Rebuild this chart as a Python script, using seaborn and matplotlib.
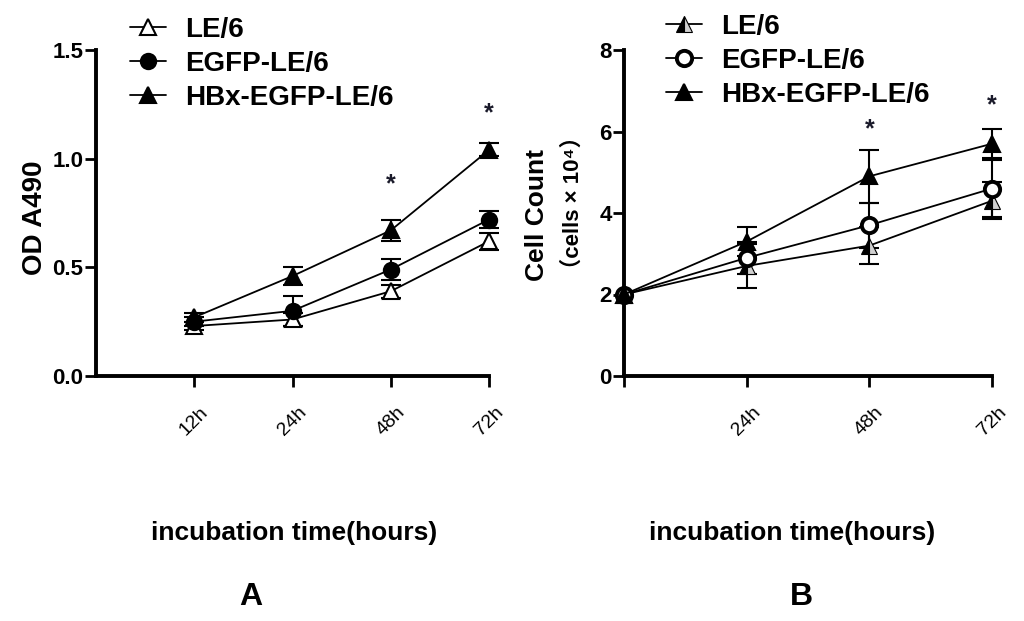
import numpy as np
import pandas as pd
import matplotlib
matplotlib.use("Agg")
import matplotlib.pyplot as plt
import seaborn as sns

# --- data ---
series = ["LE/6", "EGFP-LE/6", "HBx-EGFP-LE/6"]

# panel A: MTT (OD A490)
a_pos = [1, 2, 3, 4]
a_labels = ["12h", "24h", "48h", "72h"]
a_le6 = [0.23, 0.26, 0.39, 0.62]
a_le6_err = [0.02, 0.03, 0.03, 0.04]
a_egfp = [0.25, 0.30, 0.49, 0.72]
a_egfp_err = [0.02, 0.07, 0.05, 0.04]
a_hbx = [0.27, 0.46, 0.67, 1.04]
a_hbx_err = [0.02, 0.04, 0.05, 0.03]
a_star_x = [3, 4]
a_star_y = [0.88, 1.21]

# panel B: cell count (x 10^4)
b_hours = [0, 24, 48, 72]
b_labels = ["", "24h", "48h", "72h"]
b_le6 = [2.0, 2.7, 3.2, 4.3]
b_le6_err = [0.0, 0.55, 0.45, 0.45]
b_egfp = [2.0, 2.9, 3.7, 4.6]
b_egfp_err = [0.0, 0.4, 0.55, 0.7]
b_hbx = [2.0, 3.3, 4.9, 5.7]
b_hbx_err = [0.0, 0.35, 0.65, 0.35]
b_star_x = [48, 72]
b_star_y = [6.05, 6.65]

sns.set_style("ticks", {"axes.edgecolor": "black", "text.color": "black",
                        "axes.labelcolor": "black", "xtick.color": "black",
                        "ytick.color": "black"})
plt.rcParams['font.family'] = ['Liberation Sans', 'DejaVu Sans', 'Noto Sans CJK SC']

fig = plt.figure(figsize=(10.24, 6.21), dpi=100)
axA = fig.add_axes([96 / 1024, 1 - 376 / 621, (489 - 96) / 1024, 326 / 621])
axB = fig.add_axes([624 / 1024, 1 - 376 / 621, (992 - 624) / 1024, 326 / 621])

ms = 11
styles_a = [
    dict(marker="^", mfc="white", mec="black", mew=1.5),
    dict(marker="o", mfc="black", mec="black", mew=1.5),
    dict(marker="^", mfc="black", mec="black", mew=1.5),
]
styles_b = [
    dict(marker="^", fillstyle="left", mfc="black", mfcalt="#d0d0d0", mec="black", mew=0.8),
    dict(marker="o", mfc="white", mec="black", mew=2.8),
    dict(marker="^", mfc="black", mec="black", mew=1.5),
]


def draw_panel(ax, x, ys, errs, styles):
    for name, y, e, st in zip(series, ys, errs, styles):
        df = pd.DataFrame({"x": x, "y": y, "e": e})
        eb = df[df["e"] > 0]
        ax.errorbar(eb["x"], eb["y"], yerr=eb["e"], fmt="none", ecolor="black",
                    elinewidth=1.5, capsize=7, capthick=1.5, zorder=2, clip_on=False)
        sns.lineplot(data=df, x="x", y="y", ax=ax, color="black", lw=1.3,
                     ms=ms, label=name, zorder=3, clip_on=False, **st)


draw_panel(axA, a_pos, [a_le6, a_egfp, a_hbx], [a_le6_err, a_egfp_err, a_hbx_err], styles_a)
draw_panel(axB, b_hours, [b_le6, b_egfp, b_hbx], [b_le6_err, b_egfp_err, b_hbx_err], styles_b)

for x, y in zip(a_star_x, a_star_y):
    axA.text(x, y, "*", ha="center", va="center", fontsize=18, fontweight="bold", color="#1a1a2a")
for x, y in zip(b_star_x, b_star_y):
    axB.text(x, y, "*", ha="center", va="center", fontsize=18, fontweight="bold", color="#1a1a2a")

axA.set_xlim(0, 4)
axA.set_ylim(0, 1.5)
axA.set_xticks(a_pos)
axA.set_xticklabels(a_labels)
axA.set_yticks([0, 0.5, 1.0, 1.5])
axA.set_yticklabels(["0.0", "0.5", "1.0", "1.5"])

axB.set_xlim(0, 72)
axB.set_ylim(0, 8)
axB.set_xticks(b_hours)
axB.set_xticklabels(b_labels)
axB.set_yticks([0, 2, 4, 6, 8])

for ax in (axA, axB):
    sns.despine(ax=ax)
    for s in ("left", "bottom"):
        ax.spines[s].set_linewidth(2.8)
    ax.tick_params(axis="both", width=2, length=8, direction="out")
    ax.tick_params(axis="y", labelsize=16, pad=1)
    ax.tick_params(axis="x", labelsize=14, pad=12)
    for t in ax.get_yticklabels():
        t.set_fontweight("bold")
    for t in ax.get_xticklabels():
        t.set_rotation(45)
        t.set_ha("center")
    ax.set_xlabel("")
    ax.set_ylabel("")
    if ax.get_legend() is not None:
        ax.get_legend().remove()

# legends above the plots
leg_kw = dict(loc="upper left", frameon=False, prop={"weight": "bold", "size": 20},
              handlelength=1.3, handletextpad=0.7, labelspacing=0.28,
              borderpad=0, borderaxespad=0)
h, l = axA.get_legend_handles_labels()
fig.legend(h, l, bbox_to_anchor=(130 / 1024, 1 - 17 / 621), **leg_kw)
h, l = axB.get_legend_handles_labels()
fig.legend(h, l, bbox_to_anchor=(666 / 1024, 1 - 14 / 621), **leg_kw)

# axis titles
fig.text(35 / 1024, 1 - 218 / 621, "OD A490", rotation=90, ha="center", va="center",
         fontsize=20, fontweight="bold")
fig.text(537 / 1024, 1 - 215 / 621, "Cell Count", rotation=90, ha="center", va="center",
         fontsize=19, fontweight="bold")
fig.text(573 / 1024, 1 - 203 / 621, "（cells × 10⁴）", rotation=90, ha="center", va="center",
         fontsize=16, fontweight="bold")

fig.text(294 / 1024, 1 - 533 / 621, "incubation time(hours)", ha="center", va="center",
         fontsize=19, fontweight="bold")
fig.text(792 / 1024, 1 - 533 / 621, "incubation time(hours)", ha="center", va="center",
         fontsize=19, fontweight="bold")

fig.text(251 / 1024, 1 - 597 / 621, "A", ha="center", va="center", fontsize=23, fontweight="bold")
fig.text(801 / 1024, 1 - 597 / 621, "B", ha="center", va="center", fontsize=23, fontweight="bold")

fig.savefig("out.png", dpi=100)
